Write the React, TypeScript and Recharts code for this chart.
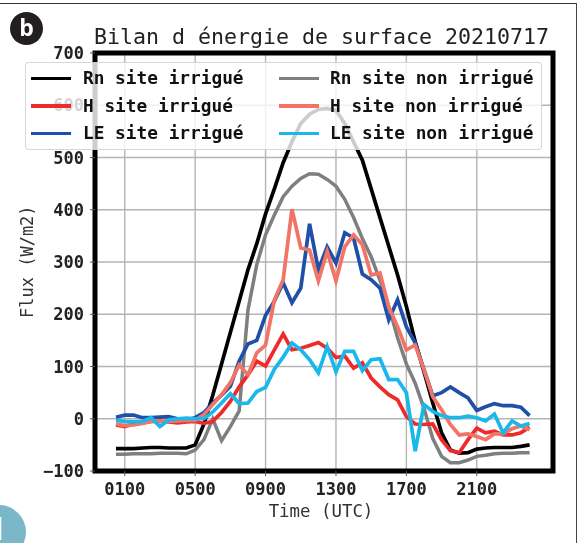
import { LineChart, Line, XAxis, YAxis, CartesianGrid, Legend, ReferenceArea } from "recharts";

const hours = [
  0.5, 1, 1.5, 2, 2.5, 3, 3.5, 4, 4.5, 5, 5.5, 6, 6.5, 7, 7.5, 8, 8.5, 9, 9.5, 10, 10.5, 11, 11.5, 12,
  12.5, 13, 13.5, 14, 14.5, 15, 15.5, 16, 16.5, 17, 17.5, 18, 18.5, 19, 19.5, 20, 20.5, 21, 21.5, 22, 22.5, 23, 23.5, 24,
];
const rnIrr = [
  -57, -57, -57, -56, -55, -55, -56, -56, -56, -50, -10, 45, 105, 165, 225, 285, 335, 392, 440, 490, 530, 565, 583, 592,
  594, 590, 565, 530, 495, 440, 385, 330, 275, 215, 148, 90, 30, -27, -60, -66, -65, -58, -56, -55, -55, -55, -53, -50,
];
const rnNon = [
  -68, -68, -67, -67, -67, -66, -66, -66, -67, -60, -40, 0, -42, -15, 15, 208, 295, 352, 390, 425, 445, 460, 469, 468,
  458, 445, 420, 385, 345, 310, 265, 215, 155, 105, 68, 20, -38, -72, -84, -84, -79, -72, -70, -67, -66, -66, -65, -65,
];
const hIrr = [
  -12, -15, -10, -8, -5, -5, -6, -8, -6, -5, -9, -5, 12, 33, 61, 84, 110, 101, 132, 162, 132, 135, 140, 146,
  135, 117, 120, 97, 107, 78, 61, 46, 36, 4, -10, -11, -10, -40, -61, -65, -40, -18, -27, -24, -31, -31, -27, -16,
];
const hNon = [
  -10, -13, -12, -9, -5, -4, -5, -4, -3, -3, 8, 27, 46, 69, 103, 84, 126, 141, 227, 266, 401, 327, 323, 264,
  320, 264, 329, 352, 333, 275, 279, 214, 176, 132, 141, 94, 42, 17, -11, -31, -29, -34, -40, -29, -29, -19, -14, -21,
];
const leIrr = [
  3, 7, 7, 2, 2, 3, 4, 0, -2, 2, 12, 30, 45, 62, 110, 143, 150, 198, 225, 260, 222, 250, 373, 285,
  329, 298, 356, 346, 277, 266, 250, 189, 228, 176, 145, 94, 44, 50, 61, 50, 40, 16, 23, 29, 25, 25, 22, 6,
];
const leNon = [
  -3, -5, -6, -5, 2, -15, -2, 0, 1, 0, 0, 13, 30, 48, 29, 30, 52, 60, 95, 118, 145, 132, 113, 88,
  138, 90, 129, 129, 92, 113, 115, 75, 75, 50, -62, 27, 14, 6, 2, 2, 5, 2, -4, 9, -27, -4, -14, -9,
];
const xTicks = [1, 5, 9, 13, 17, 21];
const yTicks = [-100, 0, 100, 200, 300, 400, 500, 600, 700];
const legendLeft = ["Rn site irrigué", "H site irrigué", "LE site irrigué"];
const legendRight = ["Rn site non irrigué", "H site non irrigué", "LE site non irrigué"];

const data = hours.map((t, i) => ({
  t,
  rnIrr: rnIrr[i],
  rnNon: rnNon[i],
  hIrr: hIrr[i],
  hNon: hNon[i],
  leIrr: leIrr[i],
  leNon: leNon[i],
}));

const mono = "'DejaVu Sans Mono', monospace";
const xMin = -0.69;
const xMax = 25.33;

const formatHour = (h: number) => String(h).padStart(2, "0") + "00";
const formatFlux = (v: number) => (v < 0 ? "\u2212" + Math.abs(v) : String(v));

function LegendBox({ payload }: any) {
  const colour = (name: string) => (payload || []).find((p: any) => p.value === name)?.color;
  const column = (names: string[], left: number, textLeft: number) =>
    names.map((name, i) => (
      <div key={name}>
        <div
          style={{
            position: "absolute",
            left,
            top: 13.5 + i * 27.5,
            width: 40,
            height: 3.5,
            background: colour(name),
          }}
        />
        <div
          style={{
            position: "absolute",
            left: textLeft,
            top: 4 + i * 27.5,
            font: `bold 17.8px ${mono}`,
            lineHeight: "22px",
            color: "#111",
            whiteSpace: "pre",
          }}
        >
          {name}
        </div>
      </div>
    ));
  return (
    <div
      style={{
        position: "relative",
        width: 517,
        height: 88,
        boxSizing: "border-box",
        background: "rgba(255,255,255,0.8)",
        border: "1px solid rgba(205,205,205,0.8)",
        borderRadius: 4,
      }}
    >
      {column(legendLeft, 5, 57)}
      {column(legendRight, 253, 304)}
    </div>
  );
}

export default function App() {
  return (
    <div style={{ position: "absolute", left: 0, top: 0, width: 581, height: 543, overflow: "hidden", background: "#fff", filter: "blur(0.45px)" }}>
      <div style={{ position: "absolute", left: 0, top: 3, width: 576, height: 1, background: "#333" }} />
      <div style={{ position: "absolute", left: 576, top: 3, width: 1, height: 540, background: "#444" }} />
      <div
        style={{
          position: "absolute",
          left: 10,
          top: 12,
          width: 33,
          height: 33,
          borderRadius: "50%",
          background: "#231f20",
          color: "#fff",
          font: "bold 23px 'Open Sans', sans-serif",
          lineHeight: "31px",
          textAlign: "center",
        }}
      >
        b
      </div>
      <div
        style={{
          position: "absolute",
          left: -28,
          top: 505,
          width: 54,
          height: 54,
          borderRadius: "50%",
          background: "#7ab8c9",
          color: "#fff",
          font: "bold 32px 'Open Sans', sans-serif",
          lineHeight: "54px",
        }}
      >
        <span style={{ position: "absolute", left: 16, top: -4 }}>1</span>
      </div>
      <LineChart
        width={581}
        height={543}
        data={data}
        margin={{ top: 53, right: 28, bottom: 32, left: 50 }}
        style={{ position: "absolute", left: 0, top: 0 }}
      >
        <CartesianGrid stroke="#b4b4b4" strokeWidth={1.4} />
        <XAxis
          dataKey="t"
          type="number"
          domain={[xMin, xMax]}
          ticks={xTicks}
          tickFormatter={formatHour}
          height={40}
          allowDataOverflow
          axisLine={false}
          tickSize={5}
          tickMargin={7}
          tickLine={{ stroke: "#555" }}
          tick={{ fill: "#222", fontFamily: mono, fontWeight: 700, fontSize: 17 }}
          interval={0}
          label={{
            value: "Time (UTC)",
            position: "insideBottom",
            offset: -6,
            dx: -3,
            style: { fill: "#333", fontFamily: mono, fontSize: 17.4 },
          }}
        />
        <YAxis
          type="number"
          domain={[-100, 700]}
          ticks={yTicks}
          tickFormatter={formatFlux}
          width={45}
          allowDataOverflow
          axisLine={false}
          tickSize={5}
          tickMargin={6}
          tickLine={{ stroke: "#555" }}
          tick={{ fill: "#222", fontFamily: mono, fontWeight: 700, fontSize: 17 }}
          interval={0}
          label={{
            value: "Flux (W/m2)",
            angle: -90,
            position: "insideLeft",
            offset: -23,
            dy: 56,
            style: { fill: "#333", fontFamily: mono, fontSize: 17 },
          }}
        />
        <ReferenceArea x1={xMin} x2={xMax} y1={-100} y2={700} fill="none" stroke="#000" strokeWidth={5} ifOverflow="visible" />
        <Line type="linear" dataKey="rnIrr" name="Rn site irrigué" stroke="#000000" strokeWidth={3.7} dot={false} isAnimationActive={false} />
        <Line type="linear" dataKey="rnNon" name="Rn site non irrigué" stroke="#7d8080" strokeWidth={3.5} dot={false} isAnimationActive={false} />
        <Line type="linear" dataKey="hIrr" name="H site irrigué" stroke="#ee2a2a" strokeWidth={3.7} dot={false} isAnimationActive={false} />
        <Line type="linear" dataKey="leIrr" name="LE site irrigué" stroke="#1f4fa8" strokeWidth={3.7} dot={false} isAnimationActive={false} />
        <Line type="linear" dataKey="hNon" name="H site non irrigué" stroke="#f27466" strokeWidth={3.7} dot={false} isAnimationActive={false} />
        <Line type="linear" dataKey="leNon" name="LE site non irrigué" stroke="#1ab7ea" strokeWidth={3.7} dot={false} isAnimationActive={false} />
        <text x={94} y={44} fill="#222" fontFamily={mono} fontSize={21.6}>
          Bilan d énergie de surface 20210717
        </text>
        <Legend
          content={<LegendBox />}
          layout="horizontal"
          align="center"
          verticalAlign="middle"
          wrapperStyle={{ position: "absolute", left: 25, top: 62, width: 517, height: 88 }}
        />
      </LineChart>
    </div>
  );
}
